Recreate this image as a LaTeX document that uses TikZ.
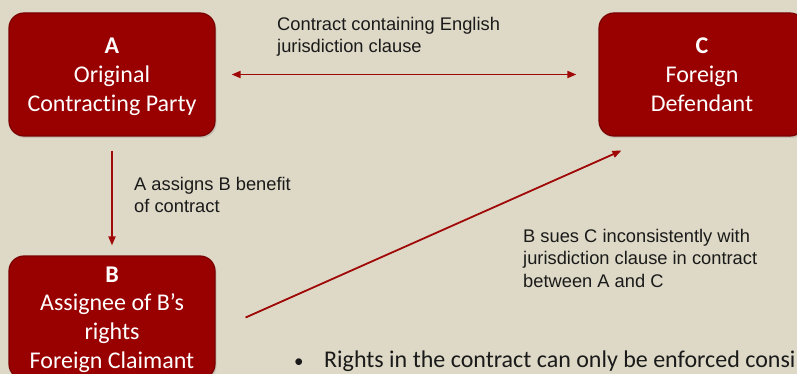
\documentclass[tikz,border=0pt]{standalone}
\usepackage{fontspec}
\setmainfont{Carlito}[Ligatures={NoCommon,NoContextual},Contextuals=NoAlternate,RawFeature={-calt;-clig}]
\newfontfamily\arialfont{Liberation Sans}
\usepackage{xcolor}
\usepackage{tikz}
\usetikzlibrary{arrows.meta,positioning,shadows}
\definecolor{slbg}{HTML}{DDD9C6}
\definecolor{slred}{HTML}{990000}
\definecolor{sledge}{HTML}{7A0000}
\definecolor{slarrow}{HTML}{A00808}
\definecolor{sltext}{HTML}{1A1A1A}

\begin{document}
\begin{tikzpicture}[x=1pt,y=-1pt,
  n/.style={rectangle,rounded corners=15pt,draw=sledge,line width=1.2pt,fill=slred,
    drop shadow={opacity=0.25,shadow xshift=1.5pt,shadow yshift=-2pt},
    minimum width=206pt,minimum height=123pt,inner sep=0pt,align=center,text depth=0pt,
    text=white,font=\fontsize{24}{28.8}\selectfont},
  lbl/.style={anchor=north west,inner sep=0pt,align=left,text=sltext,
    font=\arialfont\fontsize{18.3}{22.5}\selectfont},
  ar/.style={-{Triangle[length=9pt,width=7pt]},line width=1.8pt,slarrow}]
  \useasboundingbox (0,0) rectangle (797,374);
  \clip (0,0) rectangle (797,374);
  \fill[slbg] (0,0) rectangle (797,374);
  % parties
  \node[n] (a) at (112,74.5)  {\textbf{A}\\ Original\\ Contracting Party};
  \node[n] (c) at (702,74.5)  {\textbf{C}\\ Foreign\\ Defendant};
  \node[n] (b) at (112,317.5) {\textbf{B}\\ Assignee of B’s\\ rights\\ Foreign Claimant};
  % connectors
  \draw[ar,{Triangle[length=9pt,width=7pt]}-{Triangle[length=9pt,width=7pt]},
    shorten <=16pt,shorten >=22pt] (a.east) -- (c.west);
  \draw[ar,shorten <=14pt,shorten >=10pt] (a.south) -- (b.north);
  \draw[ar] ([xshift=30pt]b.east) -- ([xshift=23pt,yshift=-14pt]c.south west);
  % labels
  \node[lbl] (lac) at (277,17)  {Contract containing English\\ jurisdiction clause};
  \node[lbl] (lab) at (134,177) {A assigns B benefit\\ of contract};
  \node[lbl] (lbc) at (523,229) {B sues C inconsistently with\\ jurisdiction clause in contract\\ between A and C};
  \node[anchor=base west,inner sep=0pt,text=sltext,font=\fontsize{24}{28.8}\selectfont]
    (pt) at (294,367) {\makebox[30pt][l]{\fontsize{19}{20}\selectfont •}Rights in the contract can only be enforced consi};
\end{tikzpicture}
\end{document}
